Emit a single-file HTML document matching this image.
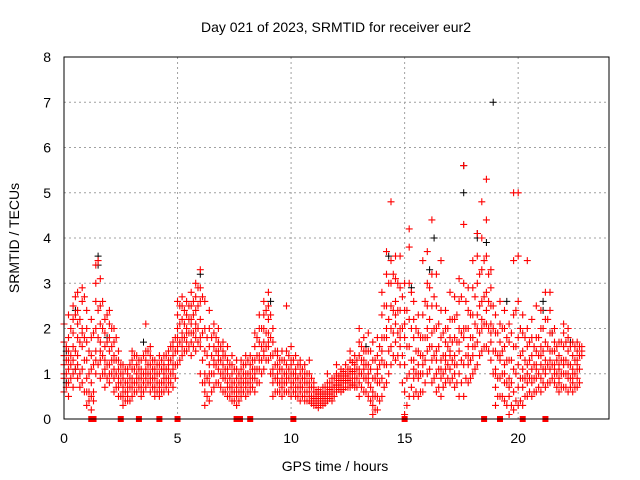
<!DOCTYPE html>
<html><head><meta charset="utf-8"><style>
body{margin:0;background:#fff}
svg{display:block;font-family:"Liberation Sans",sans-serif}
</style></head><body>
<svg id="chart" width="640" height="480" viewBox="0 0 640 480">
<rect width="640" height="480" fill="#fff"/>
<text x="336" y="32" text-anchor="middle" font-size="14">Day 021 of 2023, SRMTID for receiver eur2</text>
<text x="0" y="0" transform="translate(19,238) rotate(-90)" text-anchor="middle" font-size="14">SRMTID / TECUs</text>
<text x="335" y="471" text-anchor="middle" font-size="14">GPS time / hours</text>
<g id="grid"></g>
<g id="ticks"></g>
<path id="blk" stroke="#000" stroke-width="1" fill="none"/>
<path id="red" stroke="#f00" stroke-width="1.1" fill="none"/>
<g id="gaps"></g>
<rect x="64" y="57" width="545" height="362" fill="none" stroke="#000" stroke-width="1"/>
</svg>
<script>
const xTicks=[0,5,10,15,20];
const yTicks=[0,1,2,3,4,5,6,7,8];
const redRows=[
[0.0,0.6,0.9,1.2,1.4,1.7,2.1,1.0],[0.2,0.5,0.8,1.1,1.5,1.8,2.3,1.3],[0.4,0.7,1.0,1.3,1.9,2.2,2.5,1.6],
[0.6,0.9,1.4,1.8,2.1,2.4,2.8,1.2],[0.8,0.8,1.1,1.6,2.0,2.6,2.9,1.9],[1.0,0.3,0.6,0.9,1.3,1.7,2.0,2.4],
[1.2,0.2,0.5,0.8,1.1,1.4,1.8,2.2],[1.4,1.0,1.5,2.0,2.6,3.0,3.4,1.3],[1.6,0.9,1.3,1.7,2.1,2.5,3.1,1.5],
[1.8,0.7,1.0,1.3,1.6,1.9,2.2,1.1],[2.0,0.8,1.2,1.5,1.8,2.1,2.4,1.0],[2.2,0.6,0.9,1.1,1.4,1.7,2.0,1.3],
[2.4,0.5,0.7,0.9,1.1,1.3,1.5,0.8],[2.6,0.3,0.5,0.7,0.9,1.0,1.2,0.6],[2.8,0.4,0.6,0.7,0.8,1.0,1.1,0.5],
[3.0,0.5,0.7,0.9,1.1,1.3,1.5,0.8],[3.2,0.6,0.8,1.0,1.2,1.4,1.2,0.9],[3.4,0.5,0.7,0.9,1.1,1.3,1.0,0.6],
[3.6,0.7,0.9,1.1,1.3,1.5,2.1,1.0],[3.8,0.6,0.8,1.0,1.2,1.4,1.6,0.9],[4.0,0.5,0.7,0.9,1.1,1.3,1.0,0.6],
[4.2,0.5,0.6,0.8,1.0,1.2,1.4,0.7],[4.4,0.6,0.8,1.0,1.2,1.4,1.1,0.9],[4.6,0.6,0.9,1.1,1.3,1.5,1.2,0.8],
[4.8,0.7,1.0,1.2,1.4,1.6,1.7,1.1],[5.0,1.2,1.5,1.8,2.0,2.3,2.6,1.6],[5.2,1.4,1.6,1.9,2.2,2.5,2.7,1.8],
[5.4,1.5,1.7,2.0,2.3,2.6,2.0,1.9],[5.6,1.4,1.7,1.9,2.2,2.5,2.8,2.1],[5.8,1.5,1.8,2.1,2.4,2.7,3.0,2.0],
[6.0,1.0,1.6,2.2,2.6,2.9,3.3,1.8],[6.2,0.3,0.6,1.0,1.5,2.0,2.6,0.8],[6.4,0.4,0.8,1.2,1.6,2.0,2.4,1.0],
[6.6,0.7,1.0,1.3,1.6,1.9,2.1,1.2],[6.8,0.8,1.1,1.4,1.7,2.0,1.5,1.3],[7.0,0.6,0.9,1.2,1.4,1.7,1.5,1.0],
[7.2,0.5,0.8,1.0,1.3,1.6,1.1,0.7],[7.4,0.4,0.6,0.8,1.0,1.2,1.4,0.7],[7.6,0.3,0.5,0.7,0.9,1.1,1.3,0.6],
[7.8,0.5,0.7,0.9,1.1,1.3,0.8,0.6],[8.0,0.5,0.7,0.9,1.0,1.2,1.4,0.8],[8.2,0.6,0.8,1.0,1.2,1.4,0.9,0.7],
[8.4,0.6,0.9,1.1,1.3,1.6,1.9,1.0],[8.6,0.8,1.1,1.4,1.7,2.0,2.3,1.3],[8.8,1.1,1.4,1.7,2.0,2.3,2.6,1.5],
[9.0,1.3,1.6,1.9,2.2,2.5,2.8,1.7],[9.2,0.5,0.8,1.1,1.4,1.7,2.0,1.0],[9.4,0.6,0.8,1.0,1.2,1.4,1.5,0.9],
[9.6,0.5,0.7,0.9,1.1,1.3,1.5,0.8],[9.8,0.6,0.8,1.0,1.2,1.5,2.5,0.9],[10.0,0.5,0.8,1.0,1.3,1.6,1.2,0.7],
[10.2,0.5,0.7,0.9,1.1,1.4,1.0,0.6],[10.4,0.4,0.6,0.8,1.0,1.2,1.3,0.7],[10.6,0.4,0.6,0.8,1.0,1.2,0.9,0.5],
[10.8,0.4,0.5,0.7,0.8,1.0,1.3,0.6],[11.0,0.3,0.4,0.5,0.6,0.7,0.8,0.45],[11.2,0.25,0.35,0.45,0.55,0.65,0.5,0.4],
[11.4,0.3,0.4,0.5,0.6,0.7,0.55,0.45],[11.6,0.4,0.5,0.6,0.7,0.8,1.0,0.55],[11.8,0.4,0.5,0.6,0.8,0.9,0.7,0.6],
[12.0,0.6,0.7,0.8,0.9,1.0,1.2,0.75],[12.2,0.6,0.7,0.9,1.0,1.1,0.8,0.85],[12.4,0.7,0.8,0.9,1.0,1.2,0.95,0.85],
[12.6,0.7,0.8,1.0,1.1,1.3,1.5,0.9],[12.8,0.7,0.9,1.0,1.2,1.4,1.1,0.8],[13.0,0.5,0.8,1.1,1.4,1.7,2.0,1.0],
[13.2,0.6,0.9,1.1,1.3,1.5,1.8,1.2],[13.4,0.5,0.8,1.0,1.2,1.5,1.9,0.9],[13.6,0.1,0.3,0.6,0.9,1.3,1.7,0.5],
[13.8,0.2,0.5,0.8,1.1,1.4,1.8,1.0],[14.0,0.5,0.9,1.3,1.8,2.3,2.8,1.5],[14.2,0.8,1.2,1.8,2.5,3.2,3.7,2.0],
[14.4,1.2,1.6,2.0,2.5,3.0,3.5,4.8],[14.6,1.3,1.7,2.1,2.6,3.1,3.6,2.3],[14.8,1.2,1.6,2.0,2.4,2.9,3.6,1.8],
[15.0,0.1,0.6,1.2,1.8,2.4,3.0,2.1],[15.2,0.5,1.0,1.6,2.2,3.0,3.8,4.2],[15.4,0.5,0.9,1.3,1.8,2.2,2.6,1.1],
[15.6,0.5,0.9,1.2,1.5,1.9,2.3,1.0],[15.8,0.6,1.0,1.4,1.8,2.3,3.5,1.2],[16.0,1.0,1.5,2.0,2.5,3.0,3.7,1.8],
[16.2,0.8,1.3,1.9,2.5,3.2,4.4,1.6],[16.4,0.6,1.0,1.5,2.0,2.5,3.2,1.3],[16.6,0.5,0.9,1.3,1.8,2.4,3.5,1.1],
[16.8,0.8,1.1,1.4,1.7,2.0,2.4,1.3],[17.0,0.8,1.1,1.4,1.8,2.2,2.8,1.5],[17.2,0.7,1.0,1.4,1.8,2.2,2.7,1.2],
[17.4,0.5,1.0,1.5,2.0,2.6,3.1,1.7],[17.6,0.5,1.2,2.0,3.0,4.3,5.6,1.8],[17.8,0.8,1.2,1.6,2.0,2.4,2.9,1.4],
[18.0,1.0,1.4,1.8,2.3,2.9,3.5,1.6],[18.2,1.2,1.7,2.3,3.0,3.6,4.1,2.0],[18.4,1.5,2.0,2.6,3.3,4.0,4.8,2.2],
[18.6,1.6,2.1,2.8,3.6,4.4,5.3,2.4],[18.8,1.3,1.7,2.1,2.5,2.9,3.3,1.9],[19.0,0.3,0.7,1.1,1.5,1.9,2.3,1.0],
[19.2,0.5,0.9,1.3,1.7,2.1,2.6,1.4],[19.4,0.4,0.8,1.2,1.6,2.0,2.4,1.0],[19.6,0.1,0.5,0.9,1.3,1.7,2.1,0.7],
[19.8,0.2,0.6,1.1,1.6,2.3,3.5,5.0],[20.0,0.3,0.7,1.2,1.8,2.6,3.6,5.0],[20.2,0.3,0.7,1.1,1.5,1.9,2.3,0.9],
[20.4,0.5,0.8,1.2,1.6,2.0,3.5,1.0],[20.6,0.5,0.8,1.1,1.4,1.8,2.2,0.9],[20.8,0.6,0.9,1.2,1.5,1.8,2.5,1.1],
[21.0,0.6,0.9,1.2,1.6,2.0,2.4,1.4],[21.2,0.7,1.0,1.3,1.7,2.2,2.8,1.1],[21.4,0.8,1.1,1.5,1.9,2.4,2.8,1.3],
[21.6,0.8,1.0,1.2,1.5,1.7,2.0,1.1],[21.8,0.6,0.9,1.1,1.4,1.7,1.2,0.8],[22.0,0.7,1.0,1.3,1.6,1.9,2.1,1.2],
[22.2,0.6,0.9,1.2,1.5,1.8,2.0,1.0],[22.4,0.6,0.8,1.1,1.4,1.7,1.0,0.9],[22.6,0.7,0.9,1.2,1.5,1.7,1.3,1.1],
[22.8,1.4,1.5,1.6,1.5,1.4,1.6,1.5]
];
const redRowsB=[
[0.1,1.0,1.3,1.6,0.7],[0.3,0.9,1.2,2.0,1.4],[0.5,1.1,1.5,2.3,2.7],[0.7,1.0,1.7,2.2,0.7],[0.9,1.3,1.8,2.7,0.6],
[1.1,0.6,1.0,1.5,0.4],[1.3,0.4,1.2,1.9,0.6],[1.5,1.2,1.8,2.4,3.5],[1.7,1.0,1.4,2.0,2.6],[1.9,0.9,1.2,1.7,2.3],
[2.1,1.0,1.3,1.6,2.0],[2.3,0.7,1.0,1.3,1.8],[2.5,0.5,0.8,1.0,1.2],[2.7,0.4,0.6,0.8,1.1],[2.9,0.4,0.7,0.9,1.2],
[3.1,0.6,0.8,1.1,1.4],[3.3,0.7,0.9,1.1,1.3],[3.5,0.6,0.8,1.0,1.4],[3.7,0.8,1.0,1.2,1.5],[3.9,0.7,0.9,1.1,1.3],
[4.1,0.6,0.8,1.0,1.2],[4.3,0.6,0.8,1.1,1.3],[4.5,0.7,0.9,1.1,1.4],[4.7,0.8,1.0,1.3,1.6],[4.9,0.9,1.2,1.5,1.8],
[5.1,1.3,1.7,2.1,2.5],[5.3,1.5,1.8,2.1,2.4],[5.5,1.6,1.9,2.2,2.5],[5.7,1.6,1.9,2.3,2.6],[5.9,1.7,2.0,2.5,2.9],
[6.1,0.8,1.3,1.9,2.7],[6.3,0.5,0.9,1.4,1.8],[6.5,0.6,1.0,1.4,1.8],[6.7,0.8,1.2,1.5,1.8],[6.9,0.7,1.0,1.3,1.6],
[7.1,0.6,0.9,1.1,1.4],[7.3,0.5,0.7,0.9,1.2],[7.5,0.4,0.6,0.8,1.1],[7.7,0.4,0.6,0.8,1.0],[7.9,0.6,0.8,1.0,1.2],
[8.1,0.6,0.8,1.0,1.3],[8.3,0.7,0.9,1.1,1.3],[8.5,0.8,1.1,1.4,1.8],[8.7,1.0,1.3,1.6,2.0],[8.9,1.3,1.6,1.9,2.4],
[9.1,1.0,1.4,1.8,2.3],[9.3,0.6,0.9,1.2,1.5],[9.5,0.6,0.8,1.1,1.3],[9.7,0.6,0.8,1.0,1.3],[9.9,0.6,0.9,1.1,1.4],
[10.1,0.6,0.8,1.0,1.3],[10.3,0.5,0.7,0.9,1.2],[10.5,0.5,0.7,0.9,1.1],[10.7,0.4,0.6,0.8,1.0],[10.9,0.35,0.5,0.7,0.9],
[11.1,0.3,0.4,0.5,0.6],[11.3,0.3,0.4,0.5,0.6],[11.5,0.35,0.45,0.55,0.7],[11.7,0.45,0.55,0.65,0.8],[11.9,0.5,0.6,0.7,0.9],
[12.1,0.65,0.75,0.85,0.95],[12.3,0.65,0.8,0.9,1.05],[12.5,0.7,0.85,1.0,1.1],[12.7,0.75,0.9,1.05,1.25],[12.9,0.7,0.9,1.1,1.3],
[13.1,0.7,1.0,1.3,1.6],[13.3,0.6,0.9,1.2,1.5],[13.5,0.4,0.7,1.1,1.5],[13.7,0.2,0.5,0.9,1.3],[13.9,0.4,0.8,1.2,1.6],
[14.1,0.7,1.2,1.8,2.5],[14.3,1.0,1.5,2.2,3.0],[14.5,1.4,1.9,2.4,3.2],[14.7,1.4,1.9,2.4,3.0],[14.9,0.8,1.4,2.0,2.7],
[15.1,0.3,0.9,1.6,2.4],[15.3,0.7,1.3,2.0,2.8],[15.5,0.6,1.0,1.5,2.0],[15.7,0.6,1.0,1.4,1.8],[15.9,0.8,1.3,1.8,2.6],
[16.1,1.1,1.6,2.2,2.9],[16.3,0.9,1.4,2.0,2.7],[16.5,0.7,1.1,1.6,2.1],[16.7,0.7,1.0,1.4,1.9],[16.9,0.9,1.2,1.6,2.0],
[17.1,0.9,1.3,1.7,2.2],[17.3,0.8,1.2,1.7,2.3],[17.5,0.8,1.3,1.9,2.7],[17.7,0.9,1.4,2.0,2.6],[17.9,0.9,1.3,1.8,2.3],
[18.1,1.1,1.6,2.1,2.7],[18.3,1.4,1.9,2.5,3.2],[18.5,1.6,2.1,2.7,3.5],[18.7,1.5,2.0,2.6,3.2],[18.9,1.0,1.5,2.0,2.5],
[19.1,0.5,0.9,1.4,1.9],[19.3,0.5,1.0,1.5,2.0],[19.5,0.3,0.8,1.3,1.8],[19.7,0.3,0.8,1.3,1.9],[19.9,0.4,1.0,1.6,2.4],
[20.1,0.4,0.9,1.4,2.0],[20.3,0.5,0.9,1.3,1.8],[20.5,0.6,0.9,1.3,1.7],[20.7,0.6,0.9,1.2,1.6],[20.9,0.7,1.0,1.4,1.8],
[21.1,0.8,1.1,1.5,2.0],[21.3,0.8,1.2,1.6,2.2],[21.5,0.9,1.2,1.5,1.9],[21.7,0.7,1.0,1.3,1.6],[21.9,0.7,1.0,1.3,1.7],
[22.1,0.7,1.0,1.3,1.7],[22.3,0.7,0.9,1.2,1.6],[22.5,0.7,1.0,1.3,1.6],[22.7,0.8,1.1,1.4,1.6]
];
const blackRows=[
[0.1,0.8,1.5],[0.5,2.4,1.1],[1.5,3.6,3.4],[1.9,1.8],[3.5,1.7],[6.0,3.2],[9.1,2.6],[13.3,1.6],[14.3,3.6],[15.3,2.9],
[16.1,3.3],[16.3,4.0],[17.6,5.6,5.0],[18.2,4.1,4.0],[18.6,3.9],[18.9,7.0],[19.5,2.6],[20.1,2.0],[21.1,2.4,2.6],[21.5,1.9],[22.3,1.7]
];
const gapTimes=[1.2,1.3,2.5,3.3,4.2,5.0,7.6,7.75,8.2,10.1,15.0,18.5,19.2,20.2,21.2];
const X=t=>64+t*545/24, Y=v=>419-v*362/8;
const ns='http://www.w3.org/2000/svg';
const grid=document.getElementById('grid'), ticks=document.getElementById('ticks');
function mk(tag,attrs,parent){const e=document.createElementNS(ns,tag);for(const k in attrs)e.setAttribute(k,attrs[k]);parent.appendChild(e);return e;}
xTicks.forEach(t=>{
  const l=mk('line',{x1:X(t),x2:X(t),y1:57,y2:419,stroke:'#a0a0a0','stroke-dasharray':'2,3'},grid);
  
  
  const tx=mk('text',{x:X(t),y:443,'text-anchor':'middle','font-size':'14'},ticks);
  tx.textContent=t;
  
  
});
yTicks.forEach(v=>{
  const l=mk('line',{x1:64,x2:609,y1:Y(v),y2:Y(v),stroke:'#a0a0a0','stroke-dasharray':'2,3'},grid);
  
  
  const tx=mk('text',{x:51,y:Y(v)+5,'text-anchor':'end','font-size':'14'},ticks);
  tx.textContent=v;
  
  
});
function plus(rows){let d='';rows.forEach(r=>{const x=X(r[0]);for(let i=1;i<r.length;i++){const y=Y(r[i]);d+=`M${(x-3.5).toFixed(1)} ${y.toFixed(1)}h7M${x.toFixed(1)} ${(y-3.5).toFixed(1)}v7`;}});return d;}
document.getElementById('blk').setAttribute('d',plus(blackRows));
document.getElementById('red').setAttribute('d',plus(redRows)+plus(redRowsB));
const gaps=document.getElementById('gaps');
gapTimes.forEach(t=>{
  const r=mk('rect',{x:X(t)-3,y:416,width:6,height:6,fill:'#f00'},gaps);
  
  
});
</script>
</body></html>
